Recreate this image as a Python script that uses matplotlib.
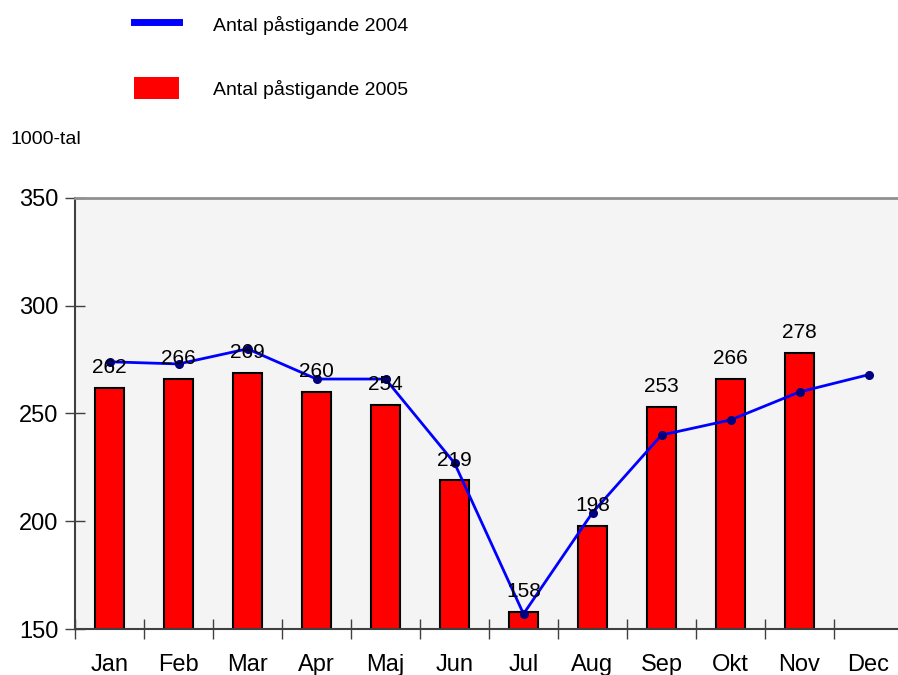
import numpy as np
import matplotlib.pyplot as plt
from matplotlib.lines import Line2D
from matplotlib.patches import Patch

plt.rcParams['font.family'] = ['Liberation Sans', 'DejaVu Sans']

months = ['Jan', 'Feb', 'Mar', 'Apr', 'Maj', 'Jun', 'Jul', 'Aug', 'Sep', 'Okt', 'Nov', 'Dec']
y2005 = [262, 266, 269, 260, 254, 219, 158, 198, 253, 266, 278]
y2004 = [274, 273, 280, 266, 266, 227, 157, 204, 240, 247, 260, 268]

fig = plt.figure(figsize=(8.98, 6.75), dpi=100)
ax = fig.add_axes([75 / 898, 46 / 675, 828 / 898, 431 / 675])
ax.set_facecolor('#f4f4f4')

x = np.arange(len(months))
ax.bar(x[:len(y2005)], y2005, width=0.42, color='#ff0000', edgecolor='black',
       linewidth=1.5, zorder=2)
ax.plot(x, y2004, color='#0000ff', lw=2, marker='o', ms=5.5, mfc='#000080', mec='#000080', zorder=3)

for xi, v in zip(x, y2005):
    ax.text(xi, v + 5, str(v), ha='center', va='bottom', fontsize=15, zorder=4)

ax.set_xlim(-0.5, len(months) - 0.5)
ax.set_ylim(150, 350)
ax.set_yticks([150, 200, 250, 300, 350])
ax.set_xticks(x)
ax.set_xticklabels(months)
ax.set_xticks(np.arange(-0.5, len(months)), minor=True)
ax.tick_params(axis='x', which='major', length=0, labelsize=17, pad=18)
ax.tick_params(axis='x', which='minor', direction='inout', length=14, width=1, color='#404040')
ax.tick_params(axis='y', direction='inout', length=14, width=1, color='#404040', labelsize=17, pad=5)

ax.spines['right'].set_visible(False)
ax.spines['top'].set_color('#909090')
ax.spines['top'].set_linewidth(2)
ax.spines['left'].set_color('#404040')
ax.spines['bottom'].set_color('#404040')
ax.spines['left'].set_linewidth(1.5)
ax.spines['bottom'].set_linewidth(1.5)

fig.text(10 / 898, 1 - 140 / 675, '1000-tal', fontsize=14, va='center', ha='left')

handles = [Line2D([0], [0], color='#0000ff', lw=5),
           Patch(facecolor='#ff0000', edgecolor='none')]
fig.legend(handles, ['Antal påstigande 2004', 'Antal påstigande 2005'],
           loc='upper left', bbox_to_anchor=(117 / 898, 1 + 4 / 675), frameon=False,
           fontsize=14, handlelength=2.3, handleheight=1.3, handletextpad=1.75,
           labelspacing=2.2)

fig.savefig('out.png', dpi=100)
